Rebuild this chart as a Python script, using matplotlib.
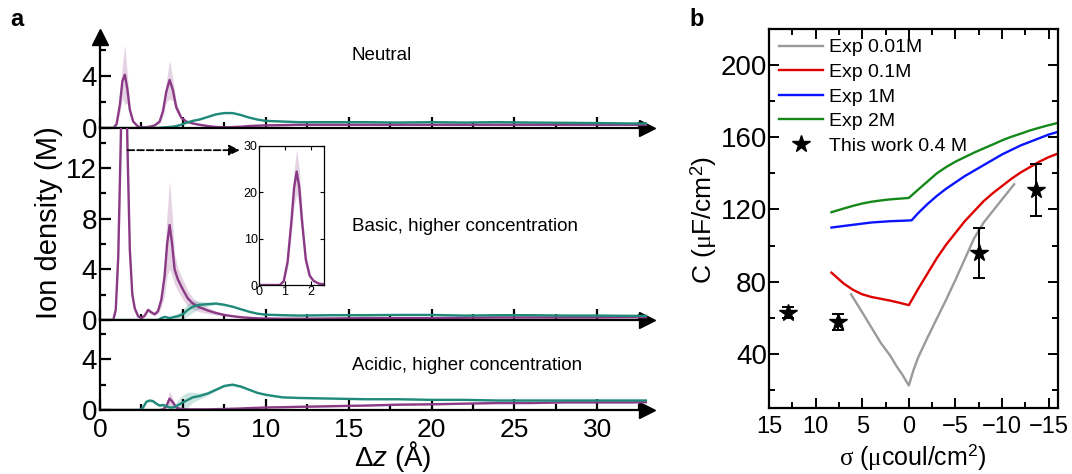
import numpy as np
import matplotlib
matplotlib.use("Agg")
import matplotlib.pyplot as plt
from matplotlib.ticker import MultipleLocator

plt.rcParams['font.family'] = ['Liberation Sans', 'DejaVu Sans']
plt.rcParams['mathtext.fontset'] = 'custom'
plt.rcParams['mathtext.rm'] = 'Liberation Sans'
plt.rcParams['mathtext.it'] = 'Liberation Serif'
plt.rcParams['mathtext.sf'] = 'Liberation Sans:italic'

# ---- panel a: ion density profiles (purple = cation, teal = anion) ----
z_neu = [0, 0.8, 1.0, 1.2, 1.35, 1.5, 1.65, 1.8, 2.0, 2.3, 2.7, 3.0, 3.3, 3.6, 3.8,
         4.0, 4.2, 4.4, 4.6, 4.9, 5.2, 5.6, 6.0, 6.5, 7.0, 7.5, 8.0, 8.5, 9.0, 9.5,
         10, 11, 12, 14, 16, 18, 20, 22, 24, 26, 28, 30, 32, 33]
pur_neu = [0, 0, 0.3, 1.8, 3.6, 4.1, 3.0, 1.4, 0.5, 0.1, 0.05, 0.1, 0.2, 0.5, 1.3,
           2.8, 3.7, 2.9, 1.6, 0.8, 0.5, 0.35, 0.25, 0.15, 0.08, 0.05, 0.07, 0.1, 0.15, 0.18,
           0.2, 0.22, 0.25, 0.25, 0.25, 0.25, 0.25, 0.25, 0.25, 0.25, 0.25, 0.25, 0.25, 0.25]
pur_neu_err = [0, 0, 0.1, 0.6, 1.3, 2.3, 1.1, 0.4, 0.1, 0.05, 0.05, 0.05, 0.05, 0.15, 0.4,
               0.8, 1.5, 0.8, 0.4, 0.15, 0.1, 0.05, 0.05, 0.05, 0.05, 0.05, 0.05, 0.05, 0.05, 0.05,
               0.05, 0.05, 0.05, 0.05, 0.05, 0.05, 0.05, 0.05, 0.05, 0.05, 0.05, 0.05, 0.05, 0.05]
teal_neu = [0, 0, 0, 0, 0, 0, 0, 0, 0, 0, 0, 0, 0, 0.02, 0.04,
            0.06, 0.08, 0.1, 0.15, 0.25, 0.4, 0.55, 0.65, 0.85, 1.05, 1.15, 1.15, 1.0, 0.8, 0.65,
            0.55, 0.5, 0.45, 0.45, 0.45, 0.42, 0.45, 0.42, 0.45, 0.42, 0.4, 0.38, 0.35, 0.35]

z_bas = [0, 0.8, 0.95, 1.1, 1.25, 1.35, 1.45, 1.55, 1.65, 1.8, 1.95, 2.1, 2.3, 2.5, 2.7,
         2.9, 3.1, 3.3, 3.5, 3.7, 3.9, 4.05, 4.2, 4.35, 4.5, 4.7, 5.0, 5.3, 5.6, 6.0,
         6.5, 7.0, 7.5, 8.0, 8.5, 9.0, 9.5, 10, 11, 12, 14, 16, 18, 20, 22, 24, 26, 28,
         30, 32, 33]
pur_bas = [0, 0, 0.8, 5.0, 14, 21, 24.5, 21, 14, 5.5, 2.0, 0.9, 0.3, 0.15, 0.35,
           0.8, 0.6, 0.45, 0.7, 1.6, 3.5, 6.0, 7.5, 6.0, 4.0, 3.2, 2.4, 1.7, 1.3, 1.0,
           0.75, 0.55, 0.4, 0.3, 0.22, 0.17, 0.13, 0.12, 0.1, 0.1, 0.12, 0.15, 0.15, 0.15,
           0.18, 0.2, 0.2, 0.2, 0.2, 0.22, 0.22]
pur_bas_err = [0, 0, 0.3, 1.5, 3.0, 4.0, 4.8, 4.0, 3.0, 1.5, 0.5, 0.2, 0.1, 0.1, 0.1,
               0.15, 0.15, 0.1, 0.2, 0.6, 1.5, 2.5, 3.5, 2.5, 1.2, 0.9, 0.8, 0.6, 0.45, 0.35,
               0.25, 0.15, 0.1, 0.05, 0.05, 0.05, 0.05, 0.05, 0.05, 0.05, 0.05, 0.05, 0.05,
               0.05, 0.05, 0.05, 0.05, 0.05, 0.05, 0.05, 0.05]
teal_bas = [0, 0, 0, 0, 0, 0, 0, 0, 0, 0, 0, 0, 0, 0, 0,
            0, 0, 0, 0, 0.15, 0.25, 0.2, 0.15, 0.2, 0.25, 0.3, 0.45, 0.8, 1.05, 1.2,
            1.25, 1.3, 1.2, 1.05, 0.85, 0.65, 0.5, 0.42, 0.38, 0.35, 0.38, 0.38, 0.4, 0.4,
            0.35, 0.38, 0.38, 0.35, 0.35, 0.33, 0.33]
teal_bas_err = [0, 0, 0, 0, 0, 0, 0, 0, 0, 0, 0, 0, 0, 0, 0,
                0, 0, 0, 0, 0.05, 0.05, 0.05, 0.05, 0.1, 0.15, 0.25, 0.4, 0.5, 0.45, 0.3,
                0.15, 0.1, 0.08, 0.05, 0.05, 0.05, 0.05, 0.05, 0.05, 0.05, 0.05, 0.05, 0.05,
                0.05, 0.05, 0.05, 0.05, 0.05, 0.05, 0.05, 0.05]

z_aci = [0, 2.4, 2.6, 2.8, 3.0, 3.2, 3.4, 3.6, 3.8, 4.0, 4.2, 4.4, 4.6, 4.8, 5.0,
         5.3, 5.6, 6.0, 6.5, 7.0, 7.5, 8.0, 8.5, 9.0, 9.5, 10, 11, 12, 14, 16, 18,
         20, 22, 24, 26, 28, 30, 32, 33]
teal_aci = [0, 0, 0.2, 0.65, 0.75, 0.7, 0.5, 0.35, 0.4, 0.3, 0.2, 0.2, 0.3, 0.45, 0.6,
            0.8, 1.0, 1.1, 1.3, 1.6, 1.9, 2.0, 1.85, 1.6, 1.35, 1.2, 1.0, 0.95, 0.9, 0.85,
            0.85, 0.8, 0.8, 0.75, 0.75, 0.75, 0.75, 0.75, 0.75]
teal_aci_err = [0, 0, 0.05, 0.1, 0.1, 0.1, 0.1, 0.1, 0.1, 0.1, 0.1, 0.15, 0.3, 0.5, 0.6,
                0.6, 0.4, 0.25, 0.15, 0.1, 0.1, 0.1, 0.1, 0.08, 0.05, 0.05, 0.05, 0.05, 0.05,
                0.05, 0.05, 0.05, 0.05, 0.05, 0.05, 0.05, 0.05, 0.05, 0.05]
pur_aci = [0, 0, 0, 0, 0, 0, 0, 0, 0.05, 0.3, 0.9, 0.6, 0.2, 0.1, 0.08,
           0.05, 0.05, 0.05, 0.05, 0.07, 0.08, 0.1, 0.12, 0.15, 0.17, 0.2, 0.22, 0.25, 0.3,
           0.35, 0.42, 0.45, 0.5, 0.55, 0.55, 0.6, 0.6, 0.6, 0.62]
pur_aci_err = [0, 0, 0, 0, 0, 0, 0, 0, 0.05, 0.2, 0.6, 0.3, 0.1, 0.05, 0.05,
               0.05, 0.05, 0.05, 0.05, 0.05, 0.05, 0.05, 0.05, 0.05, 0.05, 0.05, 0.05, 0.05,
               0.05, 0.05, 0.05, 0.05, 0.05, 0.05, 0.05, 0.05, 0.05, 0.05, 0.05]

# ---- panel b: capacitance vs surface charge ----
sig_001 = [6.2, 5, 4, 3, 2, 1.3, 0.7, 0.3, 0, -0.5, -1, -2, -3, -4, -5, -6, -7, -8, -9,
           -10, -11.3]
c_001 = [73, 63, 54.5, 46, 39, 33, 28.5, 25, 22.5, 31, 38, 49, 59.5, 70, 81, 92.5, 104,
         112.6, 119.1, 125.6, 134]
sig_01 = [8.3, 7, 6, 5, 4, 3, 2, 1, 0, -1, -2, -3, -4, -5, -6, -7, -8, -9, -10, -11,
          -12, -13, -14, -15, -16]
c_01 = [85, 79, 75.5, 73, 71.5, 70.5, 69.5, 68.3, 67, 76, 84.5, 93, 100.5, 107, 113.5,
        119, 124.5, 129, 133, 137, 140.5, 143.5, 146.5, 149, 151]
sig_1 = [8.3, 6, 4, 2, 0.5, -0.3, -1, -2, -3, -4, -5, -6, -7, -8, -9, -10, -11, -12,
         -13, -14, -15, -16]
c_1 = [110, 111.5, 112.8, 113.5, 113.8, 114, 118, 123, 127.5, 131.5, 135, 138.5, 141.5,
       144.5, 147.5, 150.5, 153, 155.5, 157.5, 159.5, 161.5, 163]
sig_2 = [8.3, 7, 6, 5, 4, 3, 2, 1, 0, -1, -2, -3, -4, -5, -6, -7, -8, -9, -10, -11, -12,
         -13, -14, -15, -16]
c_2 = [118.5, 120.5, 122, 123.3, 124.3, 125, 125.6, 126, 126.4, 131, 135.5, 140, 143.5,
       146.5, 149, 151.5, 153.8, 156, 158.3, 160.3, 162, 163.8, 165.3, 166.7, 168]
sig_w = [13, 7.6, -7.5, -13.6]
c_w = [62.7, 57.8, 96.0, 130.8]
err_w = [3, 4.4, 14, 14.4]

PURPLE = '#8a3a85'
TEAL = '#1f8a7a'

fig = plt.figure(figsize=(10.72, 4.74), dpi=100)
W, H = 1072.0, 474.0


def axes_px(left, top, right, bottom):
    return fig.add_axes([left / W, 1 - bottom / H, (right - left) / W, (bottom - top) / H])


def style_a(ax, ytop, show_x):
    ax.set_xlim(0, 33)
    ax.set_ylim(0, ytop)
    ax.patch.set_alpha(0)
    for s in ['top', 'right']:
        ax.spines[s].set_visible(False)
    for s in ['left', 'bottom']:
        ax.spines[s].set_linewidth(1.6)
    ax.xaxis.set_major_locator(MultipleLocator(5))
    ax.xaxis.set_minor_locator(MultipleLocator(2.5))
    ax.yaxis.set_major_locator(MultipleLocator(4))
    ax.yaxis.set_minor_locator(MultipleLocator(2))
    ax.tick_params(which='both', direction='in', width=1.6)
    ax.tick_params(which='major', length=8)
    ax.tick_params(which='minor', length=4)
    ax.tick_params(axis='y', labelsize=20, pad=2)
    ax.tick_params(axis='x', labelsize=19, pad=6, labelbottom=show_x)
    ax.plot(1, 0, '>k', ms=11, transform=ax.get_yaxis_transform(), clip_on=False)


def profile(ax, z, y, err, color):
    z = np.array(z)
    y = np.array(y)
    err = np.array(err)
    ax.fill_between(z, y - err, y + err, color=color, alpha=0.22, lw=0)
    ax.plot(z, y, color=color, lw=1.7)


ax1 = axes_px(100, 37, 647, 128)
ax2 = axes_px(100, 128, 647, 320)
ax3 = axes_px(100, 320, 647, 410)
style_a(ax1, 7.0, False)
style_a(ax2, 15.15, False)
style_a(ax3, 7.1, True)
ax1.plot(0, 1, '^k', ms=11, transform=ax1.get_xaxis_transform(), clip_on=False)

profile(ax1, z_neu, pur_neu, pur_neu_err, PURPLE)
profile(ax1, z_neu, teal_neu, [0.05] * len(z_neu), TEAL)
profile(ax2, z_bas, pur_bas, pur_bas_err, PURPLE)
profile(ax2, z_bas, teal_bas, teal_bas_err, TEAL)
profile(ax3, z_aci, pur_aci, pur_aci_err, PURPLE)
profile(ax3, z_aci, teal_aci, teal_aci_err, TEAL)

ax1.text(15.2, 5.6, 'Neutral', fontsize=13.5, va='center', ha='left')
ax2.text(15.2, 7.4, 'Basic, higher concentration', fontsize=13.5, va='center', ha='left')
ax3.text(15.2, 3.5, 'Acidic, higher concentration', fontsize=13.5, va='center', ha='left')

ax2.annotate('', xy=(8.6, 13.4), xytext=(1.5, 13.4),
             arrowprops=dict(arrowstyle='-|>', color='k', lw=1.3, ls='--',
                             mutation_scale=16))

# inset with full first peak
axi = axes_px(259, 146, 324, 285)
profile(axi, z_bas, pur_bas, pur_bas_err, PURPLE)
axi.set_xlim(0, 2.5)
axi.set_ylim(0, 30)
axi.xaxis.set_major_locator(MultipleLocator(1))
axi.yaxis.set_major_locator(MultipleLocator(10))
axi.tick_params(which='both', direction='in', top=True, right=True, length=3,
                width=0.8, labelsize=9, pad=1)
for s in axi.spines.values():
    s.set_linewidth(0.9)

fig.text(49 / W, 1 - 223 / H, 'Ion density (M)', rotation=90, fontsize=21,
         ha='center', va='center')
fig.text(393 / W, 1 - 457 / H, r'$\Delta\mathsf{z}$ (Å)', fontsize=20,
         ha='center', va='center')

# panel b
axb = axes_px(769, 29, 1058, 408)
axb.plot(sig_001, c_001, color='#9a9a9a', lw=1.7, label='Exp 0.01M')
axb.plot(sig_01, c_01, color='#dd0000', lw=1.7, label='Exp 0.1M')
axb.plot(sig_1, c_1, color='#0a14ff', lw=1.7, label='Exp 1M')
axb.plot(sig_2, c_2, color='#14891a', lw=1.7, label='Exp 2M')
axb.errorbar(sig_w, c_w, yerr=err_w, fmt='none', ecolor='k', elinewidth=1.4,
             capsize=4, capthick=1.4)
axb.plot(sig_w, c_w, ls='none', marker='*', ms=13, color='k', label='This work 0.4 M')
axb.set_xlim(15, -16)
axb.set_ylim(10, 220)
axb.xaxis.set_major_locator(MultipleLocator(5))
axb.xaxis.set_minor_locator(MultipleLocator(2.5))
axb.yaxis.set_major_locator(MultipleLocator(40))
axb.yaxis.set_minor_locator(MultipleLocator(20))
axb.tick_params(which='both', direction='in', top=True, right=True, width=1.4)
axb.tick_params(which='major', length=7)
axb.tick_params(which='minor', length=4)
axb.tick_params(axis='y', labelsize=20, pad=1.5)
axb.tick_params(axis='x', labelsize=17, pad=6)
for s in axb.spines.values():
    s.set_linewidth(1.6)
axb.legend(loc='upper left', frameon=False, fontsize=14, handlelength=2.3,
           handletextpad=0.3, labelspacing=0.36, borderaxespad=0.4, borderpad=0.1)

fig.text(704 / W, 1 - 220 / H, r'C ($\mu$F/cm$^2$)', rotation=90, fontsize=19,
         ha='center', va='center')
fig.text(913 / W, 1 - 457 / H, r'$\sigma$ ($\mu$coul/cm$^2$)', fontsize=18,
         ha='center', va='center')

fig.text(17 / W, 1 - 19 / H, 'a', fontsize=17, fontweight='bold', ha='center', va='center')
fig.text(697 / W, 1 - 19 / H, 'b', fontsize=17, fontweight='bold', ha='center', va='center')

fig.savefig('out.png', dpi=100)
